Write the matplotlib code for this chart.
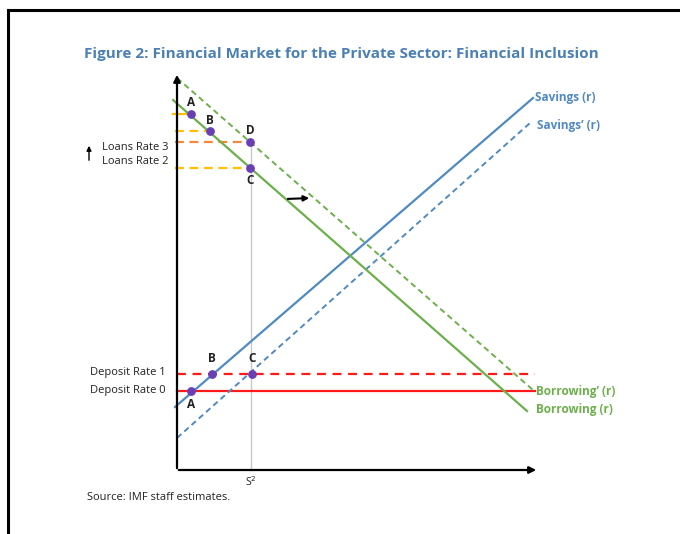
import matplotlib
matplotlib.use("Agg")
import matplotlib.pyplot as plt

plt.rcParams['font.family'] = ['Open Sans', 'DejaVu Sans']

# -------------------------
# Schematic values (quantity, rate)
# -------------------------
borrow_x = [-4, 350]
borrow_y = [370, 59]
borrow2_x = [0, 356]
borrow2_y = [392, 80]
savings_x = [-2, 356]
savings_y = [63, 372]
savings2_x = [0, 353]
savings2_y = [32, 347]

deposit_rate0 = 79
deposit_rate1 = 96
rate_end = 358

loans_A = 356
loans_B = 339
loans_rate3 = 328
loans_rate2 = 302

s2 = 74

loan_pts_x = [14, 33, 73, 73]
loan_pts_y = [356, 339, 328, 302]
loan_pts_lab = ["A", "B", "D", "C"]
dep_pts_x = [14, 35, 75]
dep_pts_y = [79, 96, 96]
dep_pts_lab = ["A", "B", "C"]

# -------------------------
# Colors
# -------------------------
blue = "#4f8ac2"
green = "#6cb04c"
red = "#ff1a1a"
yellow = "#ffc000"
orange = "#f4873a"
purple = "#6a3fb5"
title_c = "#4a80b4"

fig = plt.figure(figsize=(6.8, 5.34), dpi=100)
ax = fig.add_axes([0, 0, 1, 1])
ax.set_xlim(-177, 503)
ax.set_ylim(-64, 470)
ax.axis("off")

# frame around the figure (top and left)
ax.plot([-169, 503], [460, 460], color="black", lw=2.2, clip_on=False)
ax.plot([-169, -169], [460, -64], color="black", lw=2.2, clip_on=False)

# axes with arrows
ax.annotate("", xy=(362, 0), xytext=(-1, 0),
            arrowprops=dict(arrowstyle="-|>", color="black", lw=1.6, mutation_scale=10))
ax.annotate("", xy=(0, 398), xytext=(0, -1),
            arrowprops=dict(arrowstyle="-|>", color="black", lw=1.6, mutation_scale=10))

# S2 guide
ax.plot([s2, s2], [0, loans_rate3], color="#c8c8c8", lw=1)

# rate lines
ax.plot([0, rate_end], [deposit_rate0, deposit_rate0], color=red, lw=1.6)
ax.plot([0, rate_end], [deposit_rate1, deposit_rate1], color=red, lw=1.6, ls=(0, (4, 3)))

ax.plot([-4, loan_pts_x[0]], [loans_A, loans_A], color=yellow, lw=1.6)
ax.plot([-2, loan_pts_x[1]], [loans_B, loans_B], color=yellow, lw=1.6, ls=(0, (4, 2.5)))
ax.plot([-2, loan_pts_x[2]], [loans_rate3, loans_rate3], color=orange, lw=1.6, ls=(0, (4, 2.5)))
ax.plot([-2, loan_pts_x[3]], [loans_rate2, loans_rate2], color=yellow, lw=1.6, ls=(0, (4, 2.5)))

# curves
ax.plot(savings_x, savings_y, color=blue, lw=1.6)
ax.plot(savings2_x, savings2_y, color=blue, lw=1.4, ls=(0, (3, 2)))
ax.plot(borrow_x, borrow_y, color=green, lw=1.6)
ax.plot(borrow2_x, borrow2_y, color=green, lw=1.4, ls=(0, (3, 2)))

# shift arrow
ax.annotate("", xy=(135, 272), xytext=(108, 271),
            arrowprops=dict(arrowstyle="-|>", color="black", lw=1.5, mutation_scale=8))

# points
ax.scatter(loan_pts_x, loan_pts_y, s=28, color=purple, zorder=5)
ax.scatter(dep_pts_x, dep_pts_y, s=28, color=purple, zorder=5)

for x, y, lab in zip(loan_pts_x, loan_pts_y, loan_pts_lab):
    dy = -13 if lab == "C" else 11
    ax.text(x, y + dy, lab, ha="center", va="center", fontsize=8.5, fontweight="bold", color="#222222")
for x, y, lab in zip(dep_pts_x, dep_pts_y, dep_pts_lab):
    dy = -13 if lab == "A" else 15
    ax.text(x, y + dy, lab, ha="center", va="center", fontsize=8.5, fontweight="bold", color="#222222")

# curve labels
ax.text(358, 373, "Savings (r)", color=blue, fontsize=8.5, fontweight="bold", va="center")
ax.text(360, 345, "Savings\u2019 (r)", color=blue, fontsize=8.5, fontweight="bold", va="center")
ax.text(359, 79, "Borrowing\u2019 (r)", color=green, fontsize=8.5, fontweight="bold", va="center")
ax.text(359, 60, "Borrowing (r)", color=green, fontsize=8.5, fontweight="bold", va="center")

# rate labels
ax.text(-9, 323, "Loans Rate 3", ha="right", va="center", fontsize=8, color="#222222")
ax.text(-9, 308, "Loans Rate 2", ha="right", va="center", fontsize=8, color="#222222")
ax.annotate("", xy=(-88, 327), xytext=(-88, 307),
            arrowprops=dict(arrowstyle="-|>", color="black", lw=1, mutation_scale=7))
ax.text(-11, 98, "Deposit Rate 1", ha="right", va="center", fontsize=8, color="#222222")
ax.text(-11, 79, "Deposit Rate 0", ha="right", va="center", fontsize=8, color="#222222")

ax.text(s2, -12, "S$^2$", ha="center", va="center", fontsize=7.5, color="#222222")

fig.text(341 / 680, 1 - 54 / 534, "Figure 2: Financial Market for the Private Sector: Financial Inclusion",
         ha="center", va="center", fontsize=11, fontweight="bold", color=title_c)
fig.text(87 / 680, 1 - 498 / 534, "Source: IMF staff estimates.", ha="left", va="center",
         fontsize=8, color="#222222")

plt.savefig("out.png", dpi=100)
